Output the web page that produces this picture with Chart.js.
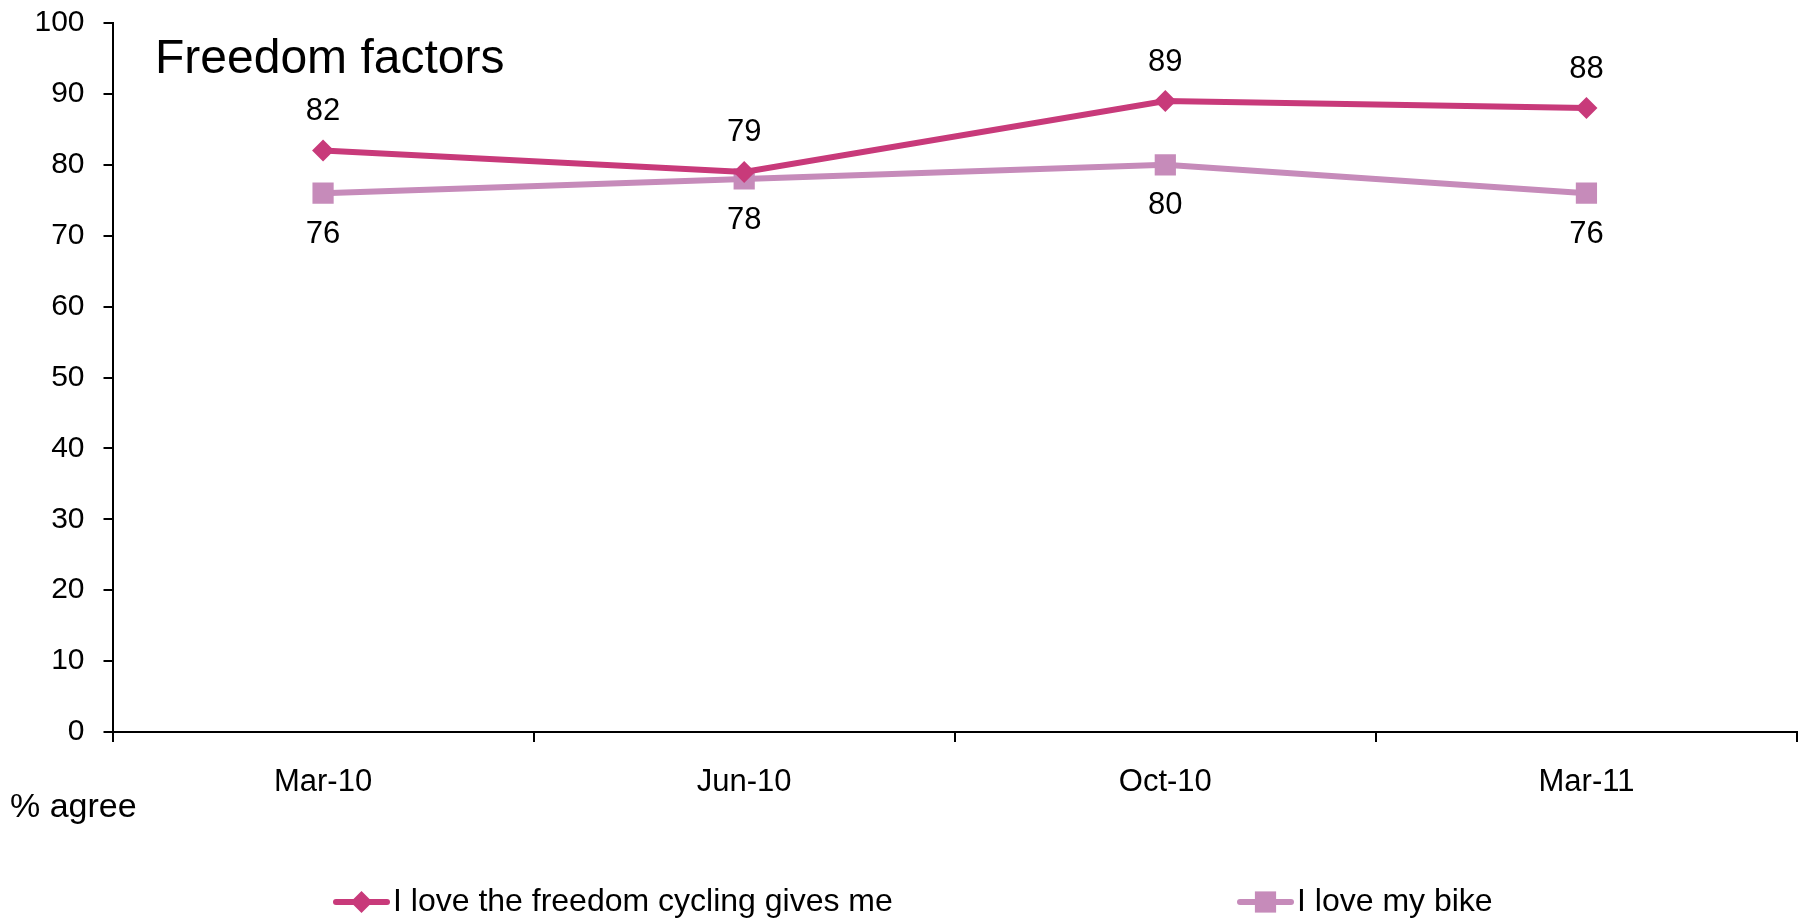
<!DOCTYPE html>
<html>
<head>
<meta charset="utf-8">
<script src="https://cdn.jsdelivr.net/npm/chart.js@4.4.1/dist/chart.umd.min.js"></script>
<style>
    html, body { margin: 0; padding: 0; background: #fff; }
    #wrap { position: relative; width: 1812px; height: 919px; }
</style>
</head>
<body>
<div id="wrap"><canvas id="grafica"></canvas></div>
<script>
// datos
const categorias = ["Mar-10", "Jun-10", "Oct-10", "Mar-11"];
const freedomCycling = [82, 79, 89, 88];
const loveBike = [76, 78, 80, 76];
const ticksY = [0, 10, 20, 30, 40, 50, 60, 70, 80, 90, 100];
const nombres = ["I love the freedom cycling gives me", "I love my bike"];

const COLOR1 = "#c83a7a";
const COLOR2 = "#c68bba";
const FUENTE = "'Liberation Sans', Arial, sans-serif";

Chart.defaults.font.family = FUENTE;
Chart.defaults.color = "#000";

// marker helper for the legend
function marcador(ctx, estilo, x, y, r, color) {
    ctx.fillStyle = color;
    ctx.beginPath();
    if (estilo === "rectRot") {
        ctx.moveTo(x, y - r);
        ctx.lineTo(x + r, y);
        ctx.lineTo(x, y + r);
        ctx.lineTo(x - r, y);
    } else {
        const s = r * Math.SQRT1_2;
        ctx.rect(x - s, y - s, 2 * s, 2 * s);
    }
    ctx.closePath();
    ctx.fill();
}

// =========================
// texts, data labels, legend
// =========================
const extras = {
    id: "extras",
    afterDatasetsDraw(chart) {
        const ctx = chart.ctx;
        ctx.save();
        ctx.fillStyle = "#000";
        ctx.textAlign = "center";
        ctx.textBaseline = "middle";
        ctx.font = "31px " + FUENTE;

        chart.data.datasets.forEach((ds, i) => {
            const meta = chart.getDatasetMeta(i);
            meta.data.forEach((p, j) => {
                const dy = i === 0 ? -39 : 41;
                ctx.fillText(ds.data[j], p.x, p.y + dy);
            });
        });

        // title inside the plot
        ctx.textAlign = "left";
        ctx.font = "48px " + FUENTE;
        ctx.fillText("Freedom factors", 155, 60);

        ctx.font = "34px " + FUENTE;
        ctx.fillText("% agree", 10, 808);

        // legend
        const posX = [333, 1237];
        const yL = 902;
        ctx.font = "32px " + FUENTE;
        chart.data.datasets.forEach((ds, i) => {
            const x0 = posX[i];
            ctx.strokeStyle = ds.borderColor;
            ctx.lineWidth = 6;
            ctx.lineCap = "round";
            ctx.beginPath();
            ctx.moveTo(x0 + 3, yL);
            ctx.lineTo(x0 + 54, yL);
            ctx.stroke();
            marcador(ctx, ds.pointStyle, x0 + 28.5, yL, ds.pointRadius, ds.backgroundColor);
            ctx.fillStyle = "#000";
            ctx.fillText(ds.label, x0 + 60, yL);
        });
        ctx.restore();
    }
};

const ctx = document.getElementById("grafica").getContext("2d");

new Chart(ctx, {
    type: "line",
    data: {
        labels: categorias,
        datasets: [{
            label: nombres[0],
            data: freedomCycling,
            borderColor: COLOR1,
            backgroundColor: COLOR1,
            borderWidth: 6,
            pointStyle: "rectRot",
            pointRadius: 11,
            pointBorderWidth: 0,
            pointBackgroundColor: COLOR1,
            tension: 0
        }, {
            label: nombres[1],
            data: loveBike,
            borderColor: COLOR2,
            backgroundColor: COLOR2,
            borderWidth: 6,
            pointStyle: "rect",
            pointRadius: 15,
            pointBorderWidth: 0,
            pointBackgroundColor: COLOR2,
            tension: 0
        }]
    },
    options: {
        responsive: true,
        maintainAspectRatio: false,
        animation: false,
        layout: { padding: { left: 0, right: 9, top: 23, bottom: 0 } },
        plugins: {
            legend: { display: false },
            tooltip: { enabled: false }
        },
        scales: {
            x: {
                offset: true,
                afterFit: s => {
                    s.height = 187;
                    s.paddingLeft = 0;
                    s.paddingRight = 0;
                },
                grid: {
                    offset: true,
                    drawOnChartArea: false,
                    drawTicks: true,
                    tickLength: 10,
                    color: "#000",
                    lineWidth: 2
                },
                border: { display: true, color: "#000", width: 2 },
                ticks: { font: { size: 31 }, color: "#000", padding: 22 }
            },
            y: {
                min: 0,
                max: 100,
                afterFit: s => {
                    s.width = 112.5;
                    s.paddingTop = 0;
                    s.paddingBottom = 0;
                },
                afterBuildTicks: s => { s.ticks = ticksY.map(v => ({ value: v })); },
                grid: {
                    drawOnChartArea: false,
                    drawTicks: true,
                    tickLength: 9,
                    color: "#000",
                    lineWidth: 2
                },
                border: { display: true, color: "#000", width: 2 },
                ticks: { font: { size: 30 }, color: "#000", padding: 19 }
            }
        }
    },
    plugins: [extras]
});
</script>
</body>
</html>
